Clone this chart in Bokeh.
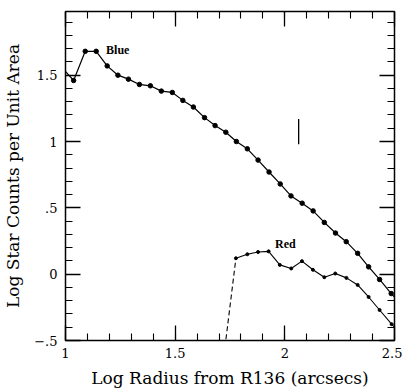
from bokeh.plotting import figure
from bokeh.models import FixedTicker, LinearAxis, Range1d, CustomLabelingPolicy
from bokeh.core.properties import value
from bokeh.embed import file_html
from bokeh.resources import INLINE

blue_x = [0.985, 1.037, 1.09, 1.14, 1.19, 1.239, 1.287, 1.337, 1.387, 1.437, 1.487,
          1.535, 1.583, 1.634, 1.682, 1.731, 1.779, 1.829, 1.878, 1.928, 1.979,
          2.028, 2.079, 2.129, 2.18, 2.231, 2.28, 2.332, 2.382, 2.432, 2.485, 2.515]
blue_y = [1.556, 1.46, 1.68, 1.68, 1.57, 1.50, 1.47, 1.43, 1.42, 1.38, 1.37,
          1.31, 1.26, 1.18, 1.12, 1.07, 1.00, 0.945, 0.86, 0.77, 0.68,
          0.59, 0.535, 0.477, 0.39, 0.31, 0.245, 0.157, 0.055, -0.04, -0.146, -0.2]

red_x = [1.777, 1.829, 1.878, 1.926, 1.977, 2.029, 2.078, 2.128, 2.18, 2.23,
         2.281, 2.332, 2.382, 2.432, 2.487, 2.515]
red_y = [0.12, 0.15, 0.167, 0.172, 0.07, 0.043, 0.098, 0.033, -0.023, 0.005,
         -0.028, -0.081, -0.172, -0.27, -0.377, -0.43]
red_dash_x = [1.727, 1.777]
red_dash_y = [-0.55, 0.12]

bar_x = [2.063]
bar_y0 = [0.98]
bar_y1 = [1.17]

label_x = [1.185, 1.955]
label_y = [1.69, 0.23]
label_text = ["Blue", "Red"]

x_ticks = [1, 1.5, 2, 2.5]
x_tick_labels = {1: "1", 1.5: "1.5", 2: "2", 2.5: "2.5"}
y_ticks = [-0.5, 0, 0.5, 1, 1.5]
y_tick_labels = {-0.5: "\u2212.5", 0: "0", 0.5: ".5", 1: "1", 1.5: "1.5"}
x_minor = [round(1 + 0.1 * i, 2) for i in range(16)]
y_minor = [round(-0.5 + 0.1 * i, 2) for i in range(25)]

p = figure(width=402, height=392, output_backend="svg", toolbar_location=None,
           x_range=Range1d(1, 2.5), y_range=Range1d(-0.5, 1.98),
           min_border_left=61, min_border_right=8, min_border_top=11, min_border_bottom=52,
           x_axis_label="Log Radius from R136 (arcsecs)",
           y_axis_label="Log Star Counts per Unit Area")
p.grid.visible = False
p.outline_line_color = "black"
p.outline_line_width = 1.5
p.background_fill_color = "white"
p.border_fill_color = "white"

xt = FixedTicker(ticks=x_ticks, minor_ticks=x_minor)
yt = FixedTicker(ticks=y_ticks, minor_ticks=y_minor)

def style(ax, label_size="13px"):
    ax.major_tick_in = 15
    ax.major_tick_out = 0
    ax.minor_tick_in = 7
    ax.minor_tick_out = 0
    ax.major_tick_line_color = "black"
    ax.minor_tick_line_color = "black"
    ax.major_tick_line_width = 1.3
    ax.minor_tick_line_width = 1.1
    ax.axis_line_color = None
    ax.major_label_text_font = "DejaVu Serif"
    ax.major_label_text_font_size = label_size
    ax.major_label_text_color = "black"
    ax.axis_label_text_font = "DejaVu Serif"
    ax.axis_label_text_font_size = "17px"
    ax.axis_label_text_font_style = "normal"
    ax.axis_label_text_color = "black"

xa = p.xaxis[0]
ya = p.yaxis[0]
xa.ticker = xt
ya.ticker = yt
xa.major_label_overrides = x_tick_labels
ya.major_label_overrides = y_tick_labels
style(xa)
style(ya)
xa.major_label_standoff = 7
ya.major_label_standoff = 8
xa.axis_label_standoff = 7
ya.axis_label_standoff = 8

top = LinearAxis(ticker=xt, major_label_standoff=0,
                 major_label_policy=CustomLabelingPolicy(code="return []"))
right = LinearAxis(ticker=yt, major_label_standoff=0,
                   major_label_policy=CustomLabelingPolicy(code="return []"))
style(top, "0px")
style(right, "0px")
p.add_layout(top, "above")
p.add_layout(right, "right")

p.line(blue_x, blue_y, line_color="black", line_width=1.2)
p.scatter(blue_x, blue_y, size=4.5, fill_color="black", line_color="black")
p.line(red_x, red_y, line_color="black", line_width=1.1)
p.scatter(red_x, red_y, size=3, fill_color="black", line_color="black")
p.line(red_dash_x, red_dash_y, line_color="black", line_width=1.1, line_dash="5 3")
p.segment(x0=bar_x, y0=bar_y0, x1=bar_x, y1=bar_y1, line_color="black", line_width=1.3)
p.text(x=label_x, y=label_y, text=label_text, text_font=value("Liberation Serif"),
       text_font_style="bold", text_font_size="12px", text_baseline="middle",
       text_align="left", text_color="black")

open("out.html", "w").write(file_html(p, INLINE))
